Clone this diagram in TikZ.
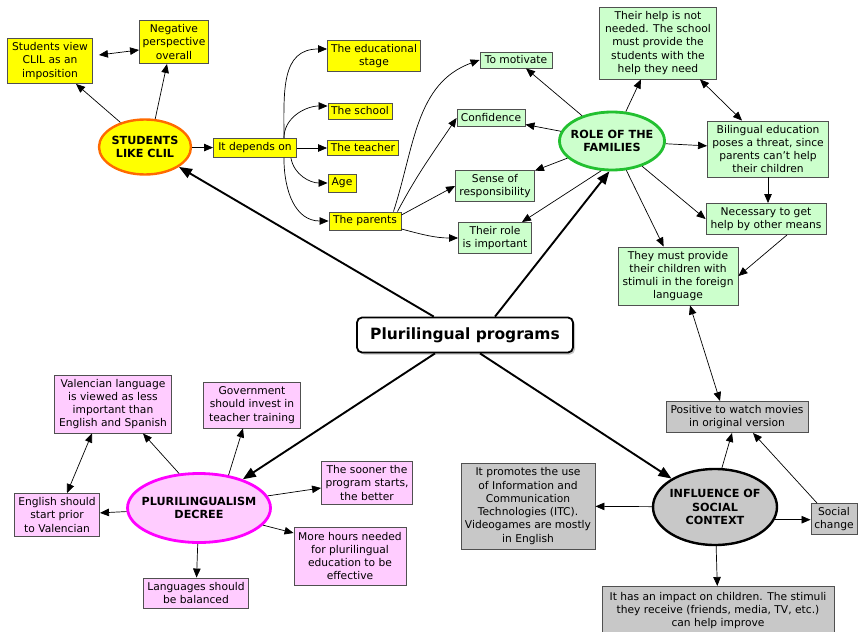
\documentclass[tikz,border=0pt]{standalone}
\usepackage{fontspec}
\setmainfont{DejaVu Sans}
\usetikzlibrary{arrows.meta,shadows,shapes.geometric}
\definecolor{ybg}{HTML}{FFFF00}
\definecolor{gbg}{HTML}{CCFFCC}
\definecolor{pbg}{HTML}{FFCCFF}
\definecolor{kbg}{HTML}{C8C8C8}
\definecolor{bordr}{HTML}{505050}
\definecolor{orng}{HTML}{FF6A00}
\definecolor{grn}{HTML}{22C030}
\definecolor{mag}{HTML}{FF00FF}
\begin{document}
\begin{tikzpicture}[x=1pt,y=-1pt,
 font=\fontsize{10.7}{13.3}\selectfont,
 box/.style={draw=bordr, line width=0.9pt, align=center, inner sep=0.5pt},
 ybox/.style={box, fill=ybg},
 gbox/.style={box, fill=gbg},
 pbox/.style={box, fill=pbg},
 kbox/.style={box, fill=kbg},
 sz/.style 2 args={minimum width=#1pt, minimum height=#2pt},
 ell/.style={ellipse, align=center, inner xsep=-8pt, inner ysep=0pt, font=\fontsize{11.2}{13.5}\selectfont\bfseries},
 arr/.style={-{Triangle[length=9pt,width=7.5pt]}, line width=0.7pt},
 darr/.style={{Triangle[length=9pt,width=7.5pt]}-{Triangle[length=9pt,width=7.5pt]}, line width=0.7pt},
 tarr/.style={-{Triangle[length=13pt,width=10pt]}, line width=1.9pt},
]
\fill[white] (0,0) rectangle (858,631);
\useasboundingbox (0,0) rectangle (858,631);

% center
\node[draw=black, line width=1.8pt, rounded corners=5pt, fill=white, sz={216}{35},
  drop shadow={shadow xshift=2pt, shadow yshift=-2pt, opacity=0.45},
  font=\fontsize{15.5}{18}\selectfont\bfseries] (cen) at (465,335) {Plurilingual programs};

% students like CLIL
\node[ell, draw=orng, line width=2.4pt, fill=ybg, sz={92}{55}] (studs) at (145,147) {STUDENTS\\LIKE CLIL};
\node[ybox, sz={85}{45}] (sv) at (50,61) {Students view\\CLIL as an\\imposition};
\node[ybox, sz={69}{43}] (neg) at (174,42) {Negative\\perspective\\overall};
\node[ybox, sz={83}{19}] (dep) at (255,148) {It depends on};
\node[ybox, sz={93}{31}] (edu) at (374,56) {The educational\\stage};
\node[ybox, sz={64}{16}] (school) at (360,111) {The school};
\node[ybox, sz={71}{15}] (teach) at (363,148) {The teacher};
\node[ybox, sz={28}{18}] (age) at (342,183) {Age};
\node[ybox, sz={72}{18}] (par) at (365,221) {The parents};

% role of the families
\node[ell, draw=grn, line width=2.8pt, fill=gbg, sz={105}{58}] (fam) at (612,141) {ROLE OF THE\\FAMILIES};
\node[gbox, sz={72}{16}] (mot) at (516,60) {To motivate};
\node[gbox, sz={68}{17}] (conf) at (491,118) {Confidence};
\node[gbox, sz={79}{31}] (sense) at (495,186) {Sense of\\responsibility};
\node[gbox, sz={73}{31}] (role2) at (495,238) {Their role\\is important};
\node[gbox, sz={117}{72}] (help) at (658,43) {Their help is not\\needed. The school\\must provide the\\students with the\\help they need};
\node[gbox, sz={121}{56}] (bil) at (768,149) {Bilingual education\\poses a threat, since\\parents can't help\\their children};
\node[gbox, sz={120}{31}] (nec) at (766,219) {Necessary to get\\help by other means};
\node[gbox, sz={120}{58}] (must) at (678,276) {They must provide\\their children with\\stimuli in the foreign\\language};

% plurilingualism decree
\node[ell, draw=mag, line width=2.8pt, fill=pbg, sz={143}{69}] (dec) at (199,508) {PLURILINGUALISM\\DECREE};
\node[pbox, sz={117}{58}] (val) at (113,404) {Valencian language\\is viewed as less\\important than\\English and Spanish};
\node[pbox, sz={97}{46}] (gov) at (252,405) {Government\\should invest in\\teacher training};
\node[pbox, sz={85}{43}] (eng) at (57,515) {English should\\start prior\\to Valencian};
\node[pbox, sz={91}{43}] (soon) at (367,483) {The sooner the\\program starts,\\the better};
\node[pbox, sz={112}{58}] (more) at (350,556) {More hours needed\\for plurilingual\\education to be\\effective};
\node[pbox, sz={105}{30}] (lang) at (196,593) {Languages should\\be balanced};

% influence of social context
\node[ell, draw=black, line width=2.4pt, fill=kbg, sz={124}{76}] (inf) at (715,507) {INFLUENCE OF\\SOCIAL\\CONTEXT};
\node[kbox, sz={142}{31}] (pos) at (737,417) {Positive to watch movies\\in original version};
\node[kbox, sz={134}{86}] (prom) at (528,506) {It promotes the use\\of Information and\\Communication\\Technologies (ITC).\\Videogames are mostly\\in English};
\node[kbox, sz={46}{31}] (soc) at (834,519) {Social\\change};
\node[kbox, sz={232}{48}, anchor=north] (imp) at (718,586) {It has an impact on children. The stimuli\\they receive (friends, media, TV, etc.)\\can help improve};

% thick connectors from center
\draw[tarr] (cen) -- (studs);
\draw[tarr] ([xshift=30pt]cen.north) -- (fam.-95);
\draw[tarr] ([xshift=-30pt]cen.south) -- (dec);
\draw[tarr] ([xshift=15pt]cen.south) -- (inf);

% students like CLIL
\draw[arr] (studs.135) -- ([xshift=26pt]sv.south);
\draw[arr] (studs.70) -- ([xshift=-7pt]neg.south);
\draw[darr] ([xshift=6pt,yshift=6pt]sv.east) -- ([yshift=-8pt]neg.west);
\draw[arr] (studs) -- (dep);
\draw[arr] ([xshift=-13pt]dep.north east) to[out=90,in=180,looseness=1.2] ([yshift=7pt]edu.west);
\draw[arr] ([xshift=-13pt]dep.north east) to[out=90,in=180] ([yshift=5pt]school.west);
\draw[arr] (dep.east) -- (teach.west);
\draw[arr] ([xshift=-6pt]dep.south east) to[out=-80,in=180] (age.west);
\draw[arr] ([xshift=-13pt]dep.south east) to[out=-90,in=180,looseness=1.1] (par.west);

% parents to green
\draw[arr] ([xshift=-8pt]par.north east) to[out=72,in=200] (mot.west);
\draw[arr] ([xshift=-4pt]par.north east) to[out=62,in=236] (conf.west);
\draw[arr] ([yshift=6pt]par.east) -- (sense.west);
\draw[arr] ([yshift=-8pt]par.east) to[out=-15,in=180] (role2.west);

% role of the families
\draw[arr] (fam) -- (mot);
\draw[arr] (fam) -- (conf);
\draw[arr] (fam) -- (sense);
\draw[arr] (fam.-110) -- ([xshift=27pt]role2.north);
\draw[arr] (fam) -- (help);
\draw[arr] (fam) -- (bil);
\draw[arr] (fam.-40) -- (nec.west);
\draw[arr] (fam) -- (must);
\draw[darr] ([xshift=42pt]help.south) -- ([xshift=-26pt]bil.north);
\draw[arr] (bil.south) -- (bil.south |- nec.north);
\draw[arr] ([xshift=21pt]nec.south) -- (must.east);
\draw[darr] ([xshift=12pt]must.south) -- ([xshift=-17pt]pos.north);

% decree
\draw[arr] (dec.120) -- ([xshift=30pt]val.south);
\draw[arr] (dec.48) -- ([xshift=-9pt]gov.south);
\draw[darr] ([xshift=-21pt]val.south) -- ([xshift=10pt]eng.north);
\draw[arr] (dec) -- (eng);
\draw[arr] (dec.10) -- ([yshift=-5pt]soon.west);
\draw[arr] (dec.-15) -- ([yshift=23pt]more.west);
\draw[arr] (dec) -- (lang);

% influence
\draw[arr] (inf.80) -- ([xshift=-5pt]pos.south);
\draw[arr] ([xshift=-17pt]soc.north) -- ([xshift=16pt]pos.south);
\draw[arr] (inf) -- (prom);
\draw[arr] (inf.-12) -- (inf.-12 -| soc.west);
\draw[arr] (inf) -- (imp);
\end{tikzpicture}
\end{document}
